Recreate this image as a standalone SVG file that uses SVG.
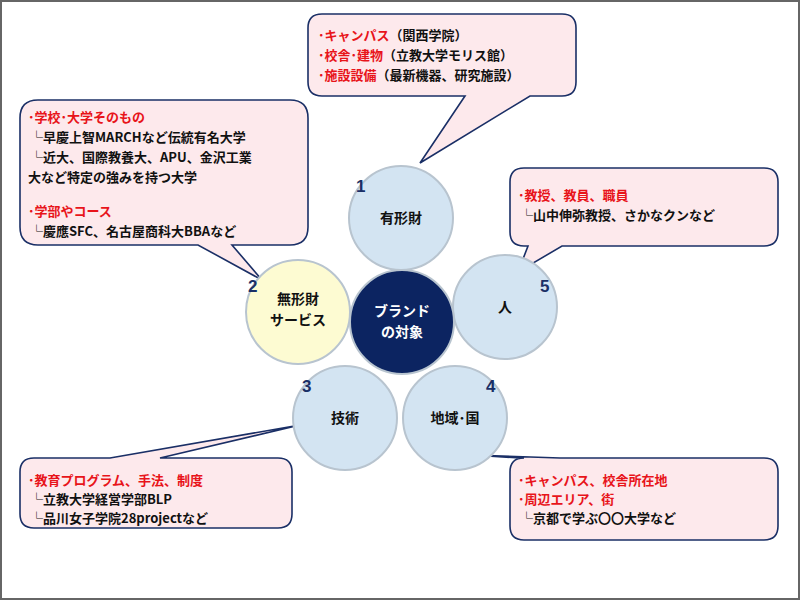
<svg xmlns="http://www.w3.org/2000/svg" width="800" height="600" viewBox="0 0 800 600">
<style>
text{font-family:"Noto Sans CJK JP","Noto Sans",sans-serif;font-size:13px;fill:#111;font-weight:bold}
.r{fill:#e8141a}
.call{fill:#fde9ec;stroke:#1a2f66;stroke-width:1.6}
.c{fill:#d3e4f2;stroke:#b8c4cf;stroke-width:2}
.n{font-size:17px;fill:#1a2f66;font-family:"Liberation Sans",sans-serif}
.ct{font-size:14px;text-anchor:middle}
</style>
<rect x="1" y="1" width="798" height="598" fill="#fff" stroke="#666" stroke-width="2"/>
<g id="connectors">
<path class="call" d="M322,14 H562 Q576,14 576,28 V82 Q576,96 562,96 H530 L420,163 L465,96 H322 Q308,96 308,82 V28 Q308,14 322,14 Z"/>
<path class="call" d="M38,100 H290 Q308,100 308,118 V227 Q308,245 290,245 H232 L262,280 L198,245 H38 Q20,245 20,227 V118 Q20,100 38,100 Z"/>
<path class="call" d="M524,168 H764 Q778,168 778,182 V232 Q778,246 764,246 H562 L518,272 L528,246 H524 Q510,246 510,232 V182 Q510,168 524,168 Z"/>
<path class="call" d="M34,458 H110 L300,425 L160,458 H278 Q292,458 292,472 V514 Q292,528 278,528 H34 Q20,528 20,514 V472 Q20,458 34,458 Z"/>
<path class="call" d="M524,458 H520 L472,455 L560,458 H764 Q778,458 778,472 V526 Q778,540 764,540 H524 Q510,540 510,526 V472 Q510,458 524,458 Z"/>
</g>
<g id="n1"><circle class="c" cx="401" cy="218" r="52"/><text class="ct" x="401" y="223">有形財</text><text class="n" x="356" y="192">1</text></g>
<g id="n2"><circle class="c" style="fill:#fdfbd2" cx="298" cy="312" r="52"/><text class="ct" x="298" y="304">無形財</text><text class="ct" x="298" y="325">サービス</text><text class="n" x="248" y="292">2</text></g>
<g id="n5"><circle class="c" cx="505" cy="307" r="52"/><text class="ct" x="505" y="312">人</text><text class="n" x="540" y="292">5</text></g>
<g id="n3"><circle class="c" cx="345" cy="418" r="52"/><text class="ct" x="345" y="423">技術</text><text class="n" x="302" y="392">3</text></g>
<g id="n4"><circle class="c" cx="455" cy="418" r="52"/><text class="ct" x="455" y="423">地域･国</text><text class="n" x="486" y="392">4</text></g>
<g id="center"><circle cx="402" cy="322" r="52" fill="#0c2461" stroke="#b8c4cf" stroke-width="2"/><text class="ct" x="402" y="316" style="fill:#fff">ブランド</text><text class="ct" x="402" y="337" style="fill:#fff">の対象</text></g>
<g id="t1">
<text x="318" y="40"><tspan class="r">･キャンパス</tspan>（関西学院）</text>
<text x="318" y="60"><tspan class="r">･校舎･建物</tspan>（立教大学モリス館）</text>
<text x="318" y="80"><tspan class="r">･施設設備</tspan>（最新機器、研究施設）</text>
</g>
<g id="t2">
<text x="28" y="122" class="r">･学校･大学そのもの</text>
<text x="30" y="142">└早慶上智MARCHなど伝統有名大学</text>
<text x="30" y="162">└近大、国際教養大、APU、金沢工業</text>
<text x="28" y="182">大など特定の強みを持つ大学</text>
<text x="28" y="216" class="r">･学部やコース</text>
<text x="30" y="236">└慶應SFC、名古屋商科大BBAなど</text>
</g>
<g id="t5">
<text x="518" y="200" class="r">･教授、教員、職員</text>
<text x="520" y="220">└山中伸弥教授、さかなクンなど</text>
</g>
<g id="t3">
<text x="28" y="485" class="r">･教育プログラム、手法、制度</text>
<text x="30" y="504">└立教大学経営学部BLP</text>
<text x="30" y="523">└品川女子学院28projectなど</text>
</g>
<g id="t4">
<text x="518" y="485" class="r">･キャンパス、校舎所在地</text>
<text x="518" y="504" class="r">･周辺エリア、街</text>
<text x="520" y="523">└京都で学ぶ〇〇大学など</text>
</g>
</svg>
